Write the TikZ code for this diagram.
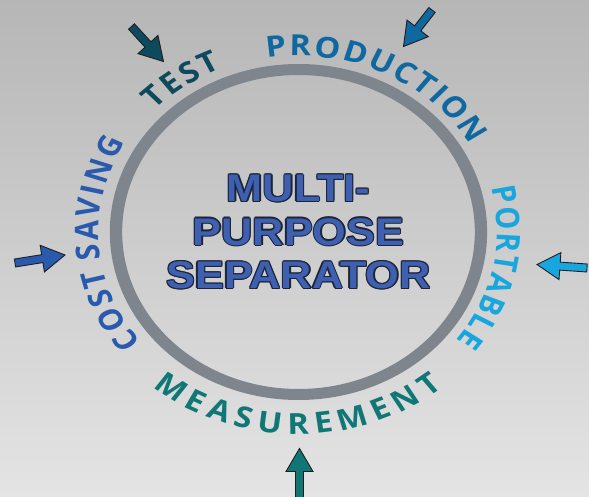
\documentclass[tikz,border=0pt]{standalone}
\usepackage{fontspec}
\usetikzlibrary{calc,decorations.text}
\newfontfamily\lblfont{Open Sans}
\newfontfamily\ttlfont{Liberation Sans}
\definecolor{bgtop}{HTML}{B6B6B6}
\definecolor{bgbot}{HTML}{E4E4E4}
\definecolor{ringc}{HTML}{7E858C}
\definecolor{testc}{HTML}{0E4A5E}
\definecolor{prodc}{HTML}{0F69A0}
\definecolor{portc}{HTML}{17A6DE}
\definecolor{measc}{HTML}{0F7776}
\definecolor{costc}{HTML}{2A5AAE}
\definecolor{ttlfill}{HTML}{3F5FB0}
\definecolor{ttlline}{HTML}{1C2538}
\definecolor{arrline}{HTML}{1E1E1E}
\newcommand\lblsize{\lblfont\bfseries\fontsize{29pt}{30pt}\selectfont}
\newcommand\fTest{\lblsize\color{testc}}
\newcommand\fProd{\lblsize\color{prodc}}
\newcommand\fPort{\lblsize\color{portc}}
\newcommand\fMeas{\lblsize\color{measc}}
\newcommand\fCost{\lblsize\color{costc}}
\newcommand\olc[3]{\rlap{\hspace*{#1}\raisebox{#2}{\textcolor{ttlline}{#3}}}}
\newcommand\ol[1]{\olc{1.1pt}{0pt}{#1}\olc{-1.1pt}{0pt}{#1}\olc{0pt}{1.1pt}{#1}\olc{0pt}{-1.1pt}{#1}\olc{.78pt}{.78pt}{#1}\olc{-.78pt}{.78pt}{#1}\olc{.78pt}{-.78pt}{#1}\olc{-.78pt}{-.78pt}{#1}\textcolor{ttlfill}{#1}}
\newcommand\blkarrow[3]{%
  \coordinate (#1-n) at ($(#2)!23pt!(#1)$);
  \draw[arrowline, fill=#3] ($(#1)!4pt!90:(#2)$) -- ($(#1-n)!4pt!90:(#2)$) -- ($(#1-n)!13.5pt!90:(#2)$) -- (#2) -- ($(#1-n)!13.5pt!-90:(#2)$) -- ($(#1-n)!4pt!-90:(#2)$) -- ($(#1)!4pt!-90:(#2)$) -- cycle;}
\tikzset{
  arrowline/.style={draw=arrline, line width=0.9pt, line join=miter},
  ringstyle/.style={draw=ringc, line width=11pt, circle, minimum size=325pt, inner sep=0pt},
  titlestyle/.style={font=\ttlfont\bfseries\fontsize{38.5pt}{43.5pt}\selectfont, align=center, inner sep=0pt}
}
\begin{document}
\begin{tikzpicture}[x=1pt, y=-1pt]
\useasboundingbox (0,0) rectangle (589,497);
\shade[top color=bgtop, bottom color=bgbot] (0,0) rectangle (589,497);
\begin{scope}[transform canvas={xscale=1.123}, shift={(265.8pt,-232pt)}, y=1pt]
  \node[ringstyle] (ring) at (0,0) {};
  \node[titlestyle] (title) at (0,0) {\ol{MULTI-}\\\ol{PURPOSE}\\\ol{SEPARATOR}};
  \path[decorate, decoration={text along path, text align=center,
    text={|\fTest|{T\kern2.5pt}{E\kern2.5pt}{S\kern2.5pt}T}}]
    (184.5:177pt) arc[start angle=184.5, end angle=64.5, radius=177pt];
  \path[decorate, decoration={text along path, text align=center,
    text={|\fProd|{P\kern2pt}{R\kern2pt}{O\kern2pt}{D\kern2pt}{U\kern2pt}{C\kern2pt}{T\kern2pt}{I\kern2pt}{O\kern2pt}N}}]
    (144.5:176pt) arc[start angle=144.5, end angle=-15.5, radius=176pt];
  \path[decorate, decoration={text along path, text align=center,
    text={|\fPort|{P\kern1.7pt}{O\kern1.7pt}{R\kern1.7pt}{T\kern1.7pt}{A\kern1.7pt}{B\kern1.7pt}{L\kern1.7pt}E}}]
    (58.3:177pt) arc[start angle=58.3, end angle=-81.7, radius=177pt];
  \path[decorate, decoration={text along path, text align=center,
    text={|\fCost|{C\kern2.5pt}{O\kern2.5pt}{S\kern2.5pt}{T\kern2.5pt} {S\kern2.5pt}{A\kern2.5pt}{V\kern2.5pt}{I\kern2.5pt}{N\kern2.5pt}G}}]
    (254:178pt) arc[start angle=254, end angle=114, radius=178pt];
  \path[decorate, decoration={text along path, text align=center,
    text={|\fMeas|{M\kern6pt}{E\kern6pt}{A\kern6pt}{S\kern6pt}{U\kern6pt}{R\kern6pt}{E\kern6pt}{M\kern6pt}{E\kern6pt}{N\kern6pt}T}}]
    (189.8:202pt) arc[start angle=189.8, end angle=349.8, radius=202pt];
\end{scope}
\coordinate (testT) at (131.5,26.5);
\coordinate (testH) at (163.5,61.5);
\coordinate (prodT) at (432,10);
\coordinate (prodH) at (403.5,46.5);
\coordinate (portT) at (587,268);
\coordinate (portH) at (537,264.5);
\coordinate (costT) at (15,263);
\coordinate (costH) at (65,255);
\coordinate (measT) at (299.5,499);
\coordinate (measH) at (299.5,448.5);
\blkarrow{testT}{testH}{testc}
\blkarrow{prodT}{prodH}{prodc}
\blkarrow{portT}{portH}{portc}
\blkarrow{costT}{costH}{costc}
\blkarrow{measT}{measH}{measc}
\end{tikzpicture}
\end{document}
